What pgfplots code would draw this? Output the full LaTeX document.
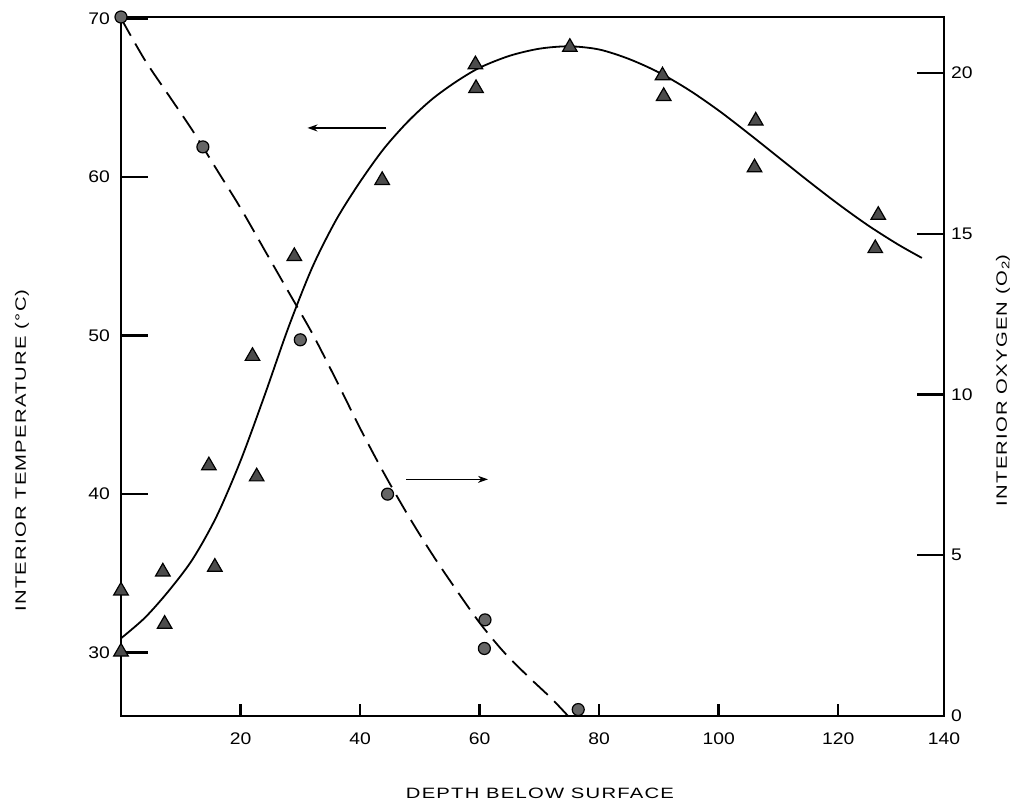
\documentclass[border=0pt]{standalone}
\usepackage{fontspec}
\setmainfont{Liberation Sans}
\newfontfamily\tickfont{Liberation Sans}[FakeStretch=1.15]
\newfontfamily\labfont{Liberation Sans}[FakeStretch=1.35,LetterSpace=8]
\usepackage{pgfplots}
\pgfplotsset{compat=1.18}
\usetikzlibrary{arrows.meta}

\pgfplotstableread{
x T
0 33.9
0 30.05
7.0 35.1
7.3 31.8
14.7 41.8
15.7 35.4
22.0 48.7
22.7 41.1
29.0 55.0
43.7 59.8
59.3 67.1
59.4 65.6
75.1 68.2
90.6 66.4
90.8 65.1
106.2 63.55
106.0 60.6
126.7 57.6
126.2 55.5
}\temppts

\pgfplotstableread{
x T
0 30.9
4 32.2
8 33.9
12 35.9
16 38.6
20 42.1
24 46.2
28 50.5
32 54.3
36 57.3
40 59.7
44 61.8
48 63.5
52 64.9
56 66.0
60 66.9
65 67.65
70 68.1
75 68.25
80 68.05
85 67.45
90 66.6
95 65.5
100 64.2
105 62.75
110 61.25
115 59.75
120 58.3
125 56.95
130 55.75
134 54.9
}\tempcurve

\pgfplotstableread{
x O
0 21.74
13.7 17.7
30.0 11.7
44.6 6.9
60.9 2.99
60.8 2.1
76.5 0.2
}\oxypts

\pgfplotstableread{
x O
0 21.7
4 20.4
8 19.3
12 18.2
16 17.0
20 15.8
24 14.5
28 13.2
32 11.9
36 10.45
40 8.95
44 7.55
48 6.25
52 5.05
56 3.95
60 2.9
64 2.0
68 1.25
72 0.55
74.8 0.0
}\oxycurve

\begin{document}
\begin{tikzpicture}
\useasboundingbox (-60.5pt,-44pt) rectangle (448.5pt,358pt);
\pgfplotsset{
  common/.style={
    at={(0,0)}, anchor=south west,
    scale only axis, width=411.5pt, height=349.5pt,
    xmin=0, xmax=137.7,
    axis line style={line width=1pt},
    tick align=inside,
    every tick/.style={black, line width=1.2pt},
    major tick style={black, line width=1.2pt},
    tick label style={font=\fontsize{8.4}{10}\tickfont},
    label style={font=\fontsize{7.5}{9}\labfont},
    /pgf/number format/assume math mode=true,
    clip=false,
  }
}
% x axis and frame
\begin{axis}[common,
  ymin=0, ymax=1,
  ytick=\empty,
  xtick={20,40,...,120},
  extra x ticks={137.7}, extra x tick labels={140},
  extra x tick style={major tick length=0pt},
  xtick pos=bottom,
  major tick length=6pt,
  xticklabel style={yshift=-5pt},
  xlabel={DEPTH BELOW SURFACE},
  xlabel style={at={(axis description cs:0.509,-0.110)}, anchor=center},
]
\end{axis}
% temperature (left)
\begin{axis}[common,
  ymin=26, ymax=70.1,
  hide x axis,
  axis y line*=left,
  ytick={30,40,...,70},
  major tick length=13.5pt,
  yticklabel style={xshift=-2pt},
  ylabel={INTERIOR TEMPERATURE (°C)},
  ylabel style={at={(axis description cs:-0.1203,0.38)}, anchor=center},
]
\addplot[black, line width=0.9pt, smooth] table[x=x,y=T] {\tempcurve};
\addplot[black, line width=0.7pt, -{Stealth[length=5pt,width=3.5pt]}] coordinates {(44.4,63.1) (31.2,63.1)};
\addplot[only marks, mark=triangle*, mark size=4.2pt,
  mark options={fill=black!70, draw=black, line width=0.6pt}] table[x=x,y=T] {\temppts};
\end{axis}
% oxygen (right)
\begin{axis}[common,
  ymin=0, ymax=21.74,
  hide x axis,
  axis y line*=right,
  ytick={0,5,...,20},
  major tick length=13.5pt,
  ylabel={INTERIOR OXYGEN (O\kern0.5pt\raisebox{-0.3ex}{\fontsize{5.5}{6}\selectfont 2})},
  ylabel style={at={(axis description cs:1.0717,0.48)}, anchor=center},
]
\addplot[black, line width=0.9pt, smooth, dash pattern=on 10pt off 4.5pt] table[x=x,y=O] {\oxycurve};
\addplot[black, line width=0.7pt, -{Stealth[length=5pt,width=3.5pt]}] coordinates {(47.7,7.36) (61.4,7.36)};
\addplot[only marks, mark=*, mark size=3pt,
  mark options={fill=black!60, draw=black, line width=0.6pt}] table[x=x,y=O] {\oxypts};
\end{axis}
\end{tikzpicture}
\end{document}
